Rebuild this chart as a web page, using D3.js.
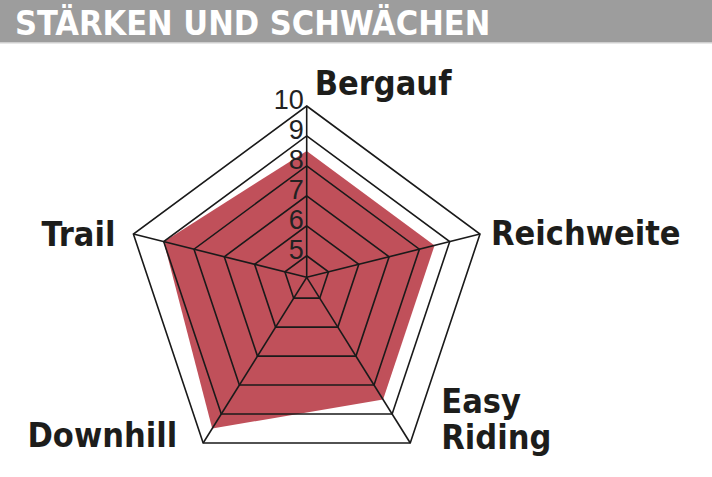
<!DOCTYPE html>
<html>
<head>
<meta charset="utf-8">
<script src="https://cdn.jsdelivr.net/npm/d3@7"></script>
<style>
  html, body { margin: 0; padding: 0; background: #fff; }
  svg { display: block; }
  .lbl { font-family: 'DejaVu Sans Condensed', 'DejaVu Sans', sans-serif; font-stretch: condensed; font-weight: bold; }
</style>
</head>
<body>
<div id="chart"></div>
<script>
const TITLE = 'STÄRKEN UND SCHWÄCHEN'
const axes = ['Bergauf', 'Reichweite', 'Easy Riding', 'Downhill', 'Trail']
const values = [8.5, 8.5, 8.5, 9.5, 9]
const ticks = [5, 6, 7, 8, 9, 10]

const W = 712, H = 477
const CENTER = { x: 306.7, y: 277.3 }
// the drawn pentagon is not regular: each spoke has its own angle and length
const SPOKE_ANGLE = [0, 76, 148, -148, -76]
const SPOKE_LEN   = [171.3, 178.6, 195.4, 195.4, 178.6]
// label offsets from the outer vertex
const LABEL_POS = [
  { dx: 8,   dy: -11, anchor: 'start' },
  { dx: 11,  dy: 11,  anchor: 'start' },
  { dx: 31,  dy: -30, anchor: 'start' },
  { dx: -26, dy: 4,   anchor: 'end' },
  { dx: -18, dy: 12,  anchor: 'end' },
]
const LINE_GAP = 36

const svg = d3.select('#chart').append('svg')
  .attr('width', W).attr('height', H)

// ── header ──────────────────────────────────────────────────
svg.append('rect').attr('x', 0).attr('y', 0).attr('width', W).attr('height', 42)
  .attr('fill', '#9d9d9d')
svg.append('rect').attr('x', 0).attr('y', 42).attr('width', W).attr('height', 1.5)
  .attr('fill', '#cfcfcf')
svg.append('text').attr('class', 'lbl')
  .attr('x', 15).attr('y', 34.5)
  .attr('fill', '#fff').style('font-size', '34px')
  .text(TITLE)

// ── scales ──────────────────────────────────────────────────
const rScale = d3.scaleLinear().domain([4.28, 10]).range([0, 1])
const point = (i, v) => {
  const a = SPOKE_ANGLE[i] * Math.PI / 180
  const r = rScale(v) * SPOKE_LEN[i]
  return [CENTER.x + r * Math.sin(a), CENTER.y - r * Math.cos(a)]
}
const line = d3.line().curve(d3.curveLinearClosed)
const maxTick = d3.max(ticks)

const g = svg.append('g')

// ── area ────────────────────────────────────────────────────
g.append('path')
  .attr('d', line(values.map((v, i) => point(i, v))))
  .attr('fill', '#c0505a')

// ── grid ────────────────────────────────────────────────────
g.selectAll('.ring').data(ticks)
  .join('path').attr('class', 'ring')
  .attr('d', t => line(axes.map((_, i) => point(i, t))))
  .attr('fill', 'none').attr('stroke', '#1a1a1a').attr('stroke-width', 1.6)

g.selectAll('.spoke').data(axes)
  .join('line').attr('class', 'spoke')
  .attr('x1', CENTER.x).attr('y1', CENTER.y)
  .attr('x2', (_, i) => point(i, maxTick)[0])
  .attr('y2', (_, i) => point(i, maxTick)[1])
  .attr('stroke', '#1a1a1a').attr('stroke-width', 1.6)

// ── tick numbers ────────────────────────────────────────────
g.selectAll('.tick').data(ticks)
  .join('text').attr('class', 'tick')
  .attr('x', CENTER.x - 3)
  .attr('y', t => point(0, t)[1] + 3)
  .attr('text-anchor', 'end')
  .style('font-family', "'Liberation Sans Narrow', 'Liberation Sans', sans-serif")
  .style('font-size', '27px')
  .attr('fill', '#222')
  .text(d => d)

// ── axis labels ─────────────────────────────────────────────
axes.forEach((name, i) => {
  const [x, y] = point(i, maxTick)
  const p = LABEL_POS[i]
  name.split(' ').forEach((w, k) => {
    g.append('text').attr('class', 'lbl')
      .attr('x', x + p.dx).attr('y', y + p.dy + k * LINE_GAP)
      .attr('text-anchor', p.anchor)
      .attr('fill', '#1d1d1b').style('font-size', '34px')
      .text(w)
  })
})
</script>
</body>
</html>
